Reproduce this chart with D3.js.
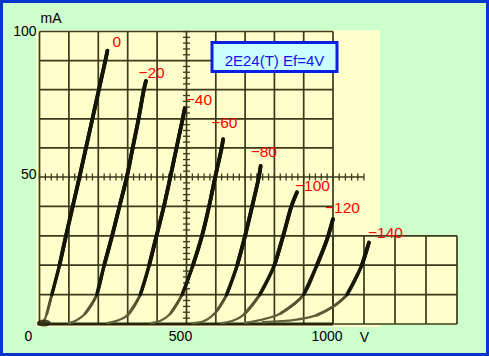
<!DOCTYPE html>
<html>
<head>
<meta charset="utf-8">
<script src="https://cdn.jsdelivr.net/npm/d3@7"></script>
<style>
  html, body { margin: 0; padding: 0; background: #ccffcc; }
  svg { display: block; }
  text { font-family: "Liberation Sans", Arial, sans-serif; }
</style>
</head>
<body>
<script>
// ---------------- DATA ----------------
const title = "2E24(T) Ef=4V";
const xUnit = "V";
const yUnit = "mA";
const voltTicks = [0, 500, 1000];
const currentTicks = [50, 100];
const gridVoltages = [0, -20, -40, -60, -80, -100, -120, -140];

// plate voltage (V), plate current (mA) for each grid voltage
const curveG0    = [[5,0],[15,1],[25,3.5],[42,10],[68,20],[90,30],[113,40],[136,50],[158,60],[180,70],[202,80],[224,90],[231,93.4]];
const curveG20   = [[100,0.3],[125,1.2],[155,3.5],[195,10],[220,20],[247,30],[272,40],[297,50],[317,60],[337,70],[355,80],[362,83]];
const curveG40   = [[230,0.3],[260,1],[300,3],[343,10],[373,20],[398,30],[423,40],[445,50],[466,60],[487,70],[494,73.6]];
const curveG60   = [[380,0.3],[410,1],[445,3.5],[485,10],[522,20],[553,30],[577,40],[598,50],[620,60],[625,63]];
const curveG80   = [[520,0.3],[560,1],[600,4],[637,10],[673,20],[700,30],[724,40],[747,50],[753,53.8]];
const curveG100  = [[620,0.3],[660,1.2],[697,3.3],[750,10],[800,20],[830,30],[858,40],[877,44.8]];
const curveG120  = [[700,0.4],[753,1.4],[821,3.6],[900,10],[945,20],[979,28.6],[1000,35.7]];
const curveG140  = [[760,0.6],[870,1.4],[945,3],[1000,5.9],[1045,10],[1093,20],[1112,26.3],[1116,27.7]];

const curves = [curveG0, curveG20, curveG40, curveG60, curveG80, curveG100, curveG120, curveG140];

// ---------------- DRAWING ----------------
const W = 489, H = 356;
const svg = d3.select("body").append("svg").attr("width", W).attr("height", H);

// scales (scanned paper is slightly non-uniform, hence polylinear)
const x = d3.scaleLinear().domain([0, 500, 1000, 1400]).range([39.5, 186.5, 333, 457]);
const y = d3.scaleLinear().domain([0, 50, 100]).range([324, 177, 31.5]);

// background + border
svg.append("rect").attr("x", 1.5).attr("y", 1.5).attr("width", W - 3).attr("height", H - 3)
  .attr("fill", "#ccffcc").attr("stroke", "#0a35cc").attr("stroke-width", 3);

// paper
svg.append("rect").attr("x", 36).attr("y", 30).attr("width", 344).attr("height", 297).attr("fill", "#ffffcc");
// extension box paper
svg.append("rect").attr("x", x(1000)).attr("y", y(30)).attr("width", x(1400) - x(1000)).attr("height", y(0) - y(30) + 1)
  .attr("fill", "#ffffcc");

const gridColor = "#3a3a1c";
const g = svg.append("g");

// main grid
d3.range(0, 1001, 100).forEach(v => {
  g.append("line").attr("x1", x(v)).attr("x2", x(v)).attr("y1", y(0)).attr("y2", y(100))
    .attr("stroke", gridColor).attr("stroke-width", 1.7);
});
d3.range(0, 101, 10).forEach(c => {
  const xe = c === 50 ? 1100 : 1000;
  g.append("line").attr("x1", x(0)).attr("x2", x(xe)).attr("y1", y(c)).attr("y2", y(c))
    .attr("stroke", gridColor).attr("stroke-width", 1.7);
});
// extension grid
d3.range(1000, 1401, 100).forEach(v => {
  g.append("line").attr("x1", x(v)).attr("x2", x(v)).attr("y1", y(0)).attr("y2", y(30))
    .attr("stroke", gridColor).attr("stroke-width", 1.7);
});
d3.range(0, 31, 10).forEach(c => {
  g.append("line").attr("x1", x(1000)).attr("x2", x(1400)).attr("y1", y(c)).attr("y2", y(c))
    .attr("stroke", gridColor).attr("stroke-width", 1.7);
});
// minor ticks along 50 mA line and 500 V line
d3.range(0, 1101, 20).forEach(v => {
  g.append("line").attr("x1", x(v)).attr("x2", x(v)).attr("y1", y(50) - 3.5).attr("y2", y(50) + 3.5)
    .attr("stroke", gridColor).attr("stroke-width", 1.3);
});
d3.range(0, 101, 2).forEach(c => {
  g.append("line").attr("x1", x(500) - 3.5).attr("x2", x(500) + 3.5).attr("y1", y(c)).attr("y2", y(c))
    .attr("stroke", gridColor).attr("stroke-width", 1.3);
});
// heavy baseline
g.append("line").attr("x1", x(0) - 2).attr("x2", x(1000)).attr("y1", y(0)).attr("y2", y(0))
  .attr("stroke", "#26260f").attr("stroke-width", 3.2);

// gradient for curve stroke (darker top, faded bottom like the scan)
const defs = svg.append("defs");
const grad = defs.append("linearGradient").attr("id", "cg")
  .attr("gradientUnits", "userSpaceOnUse").attr("x1", 0).attr("x2", 0).attr("y1", y(100)).attr("y2", y(0));
[[0, "#151508"], [0.65, "#1c1c0c"], [0.85, "#3e3e22"], [1, "#65653f"]].forEach(s =>
  grad.append("stop").attr("offset", s[0]).attr("stop-color", s[1]));

const line = d3.line().x(d => x(d[0])).y(d => y(d[1])).curve(d3.curveCatmullRom.alpha(0.5));
// layered strokes: thin faded toe, thickening towards the top
const layers = [[0, 2.3, "url(#cg)"], [3, 2.9, "url(#cg)"], [10, 3.5, "#181809"], [20, 3.9, "#151507"]];
curves.forEach(c => {
  layers.forEach(([minI, w, col]) => {
    const seg = c.filter(d => d[1] >= minI);
    if (seg.length < 2) return;
    svg.append("path").attr("d", line(seg)).attr("fill", "none")
      .attr("stroke", col).attr("stroke-width", w).attr("stroke-linecap", "round");
  });
});
// smudge at origin
svg.append("ellipse").attr("cx", x(15)).attr("cy", y(0) - 1).attr("rx", 7).attr("ry", 3.5).attr("fill", "#2a2a14").attr("opacity", 0.85);

// curve labels
const labelOffsets = [[5, -4], [-7.5, -3], [1, -3], [-12, -11], [-10, -9], [-2, -1], [-8, -6], [-1, -5]];
curves.forEach((c, i) => {
  const end = c[c.length - 1];
  const gv = gridVoltages[i];
  svg.append("text")
    .attr("x", x(end[0]) + labelOffsets[i][0]).attr("y", y(end[1]) + labelOffsets[i][1])
    .attr("fill", "#ff0000").attr("font-size", 15.5)
    .text(gv === 0 ? "0" : "\u2212" + Math.abs(gv));
});

// axes (labels only)
const xAxis = svg.append("g").attr("transform", `translate(0,${y(0)})`)
  .call(d3.axisBottom(x).tickValues(voltTicks).tickSize(0).tickPadding(0).tickFormat(d3.format("d")));
xAxis.select(".domain").remove();
xAxis.selectAll("text").attr("font-size", 14).attr("fill", "#000")
  .attr("font-family", "Liberation Sans, Arial, sans-serif")
  .attr("dy", 0).attr("y", 17).attr("dx", d => d === 0 ? -11.5 : -6.5);

const yAxis = svg.append("g").attr("transform", `translate(${x(0)},0)`)
  .call(d3.axisLeft(y).tickValues(currentTicks).tickSize(0).tickPadding(3).tickFormat(d3.format("d")));
yAxis.select(".domain").remove();
yAxis.selectAll("text").attr("font-size", 14).attr("fill", "#000")
  .attr("font-family", "Liberation Sans, Arial, sans-serif")
  .attr("dy", d => d === 100 ? "0.32em" : "0.1em");

svg.append("text").attr("x", 40.5).attr("y", 22.5).attr("font-size", 14).attr("fill", "#000").text(yUnit);
svg.append("text").attr("x", 364.5).attr("y", 341.5).attr("text-anchor", "middle").attr("font-size", 14).attr("fill", "#000").text(xUnit);

// title box
svg.append("rect").attr("x", 212).attr("y", 42.5).attr("width", 125).attr("height", 29)
  .attr("fill", "#ccffff").attr("stroke", "#0a1ee6").attr("stroke-width", 3);
svg.append("text").attr("x", 274.5).attr("y", 66).attr("text-anchor", "middle")
  .attr("font-size", 15).attr("fill", "#1010f0").text(title);
</script>
</body>
</html>
